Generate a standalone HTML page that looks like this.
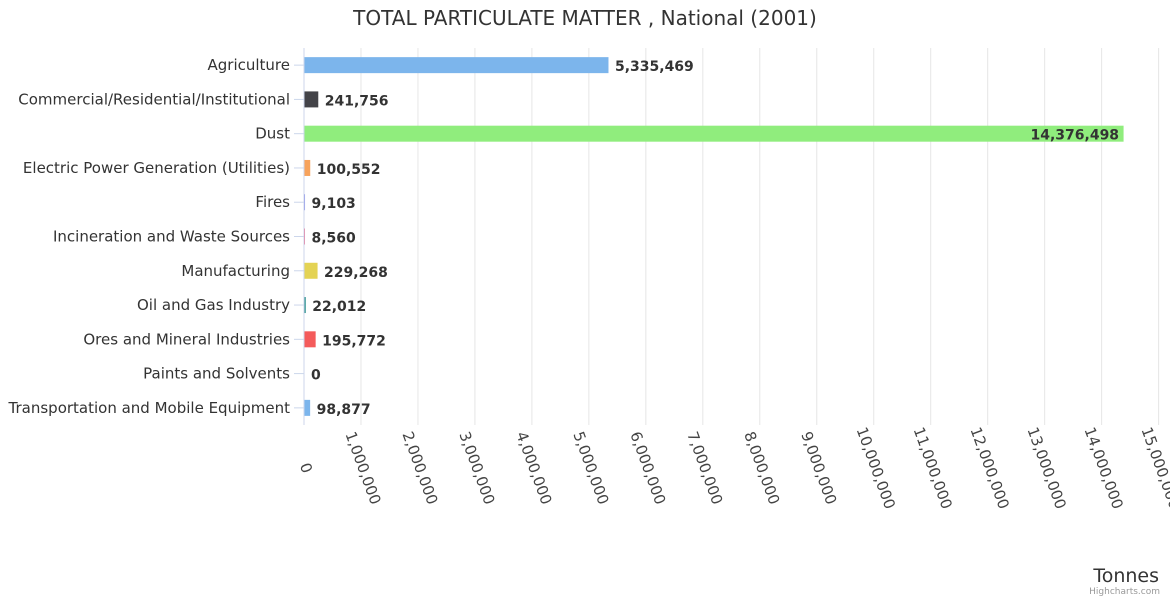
<!DOCTYPE html>
<html><head><meta charset="utf-8">
<style>
body{margin:0;background:#fff;font-family:"Liberation Sans","DejaVu Sans",sans-serif;}
svg text{font-family:"DejaVu Sans","Liberation Sans",sans-serif;}
</style></head>
<body>
<svg id="chart" width="1170" height="600" xmlns="http://www.w3.org/2000/svg">
<rect width="1170" height="600" fill="#fff"/>
<text x="585" y="25" text-anchor="middle" font-size="20" fill="#333">TOTAL PARTICULATE MATTER , National (2001)</text>
<g id="grid"></g><g id="bars"></g><g id="labels"></g><g id="xticks"></g>
<text x="1159" y="582" text-anchor="end" font-size="19" fill="#333">Tonnes</text>
<text x="1160" y="594" text-anchor="end" font-size="9" fill="#999">Highcharts.com</text>
</svg>
<script>
const categories=["Agriculture","Commercial/Residential/Institutional","Dust","Electric Power Generation (Utilities)","Fires","Incineration and Waste Sources","Manufacturing","Oil and Gas Industry","Ores and Mineral Industries","Paints and Solvents","Transportation and Mobile Equipment"];
const values=[5335469,241756,14376498,100552,9103,8560,229268,22012,195772,0,98877];
const tickValues=[0,1000000,2000000,3000000,4000000,5000000,6000000,7000000,8000000,9000000,10000000,11000000,12000000,13000000,14000000,15000000];
const colors=["#7cb5ec","#434348","#90ed7d","#f7a35c","#8085e9","#f15c80","#e4d354","#2b908f","#f45b5b","#91e8e1","#7cb5ec"];
const NS="http://www.w3.org/2000/svg";
const x0=304,x1=1158.6,yTop=48,yBot=425,xmax=15000000;
const band=(yBot-yTop)/categories.length;
const xs=v=>x0+(v/xmax)*(x1-x0);
const yc=i=>yTop+band*(i+0.5);
const fmt=v=>v.toLocaleString('en-US');
function mk(tag,attrs,parent){const e=document.createElementNS(NS,tag);for(const k in attrs)e.setAttribute(k,attrs[k]);document.getElementById(parent).appendChild(e);return e;}
tickValues.forEach((t,i)=>{
  const x=xs(t);
  if(i>0){const g=mk('line',{x1:x,x2:x,y1:yTop,y2:yBot,stroke:'#e6e6e6','stroke-width':1},'grid');
  
  }
  const tl=mk('text',{x:0,y:5,'text-anchor':'middle','font-size':15,fill:'#444',transform:`translate(${x+2},468) rotate(70)`},'xticks');
  
  
  tl.textContent=fmt(t);
});
const ax=mk('line',{x1:x0,x2:x0,y1:yTop,y2:yBot,stroke:'#ccd6eb','stroke-width':1},'grid');


categories.forEach((c,i)=>{
  const y=yc(i);
  const tk=mk('line',{x1:x0-10,x2:x0,y1:y,y2:y,stroke:'#ccd6eb'},'grid');
  
  
  const cl=mk('text',{x:290,y:y+5,'text-anchor':'end','font-size':15,fill:'#333'},'labels');
  
  
  cl.textContent=c;
  const w=xs(values[i])-x0;
  const b=mk('rect',{x:x0+0.5,y:y-8,width:Math.max(w,0),height:16,fill:colors[i]},'bars');
  
  
  const inside=w>700;
  const vl=mk('text',{x:inside?x0+w-4:x0+w+7,y:y+6,'text-anchor':inside?'end':'start','font-size':14,'font-weight':'bold',fill:'#333'},'labels');
  
  
  vl.textContent=fmt(values[i]);
});
</script>
</body></html>
